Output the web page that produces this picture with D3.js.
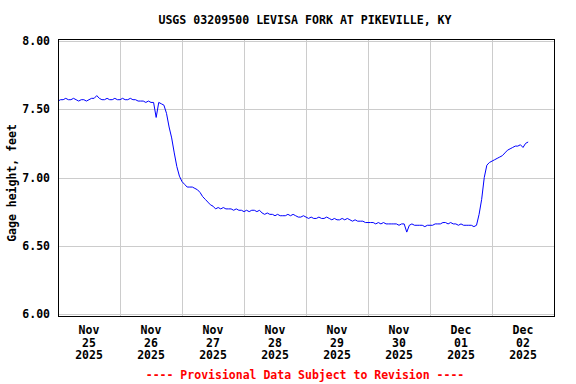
<!DOCTYPE html>
<html>
<head>
<meta charset="utf-8">
<script src="https://cdn.jsdelivr.net/npm/d3@7"></script>
<style>
  body { margin: 0; background: #fff; }
  svg text { font-family: "DejaVu Sans Mono", "Liberation Mono", monospace; font-weight: bold; }
</style>
</head>
<body>
<div id="chart"></div>
<script>
const WIDTH = 576
const HEIGHT = 384

const title = 'USGS 03209500 LEVISA FORK AT PIKEVILLE, KY'
const yLabel = 'Gage height, feet'
const footer = '---- Provisional Data Subject to Revision ----'

const yTicks = [6.0, 6.5, 7.0, 7.5, 8.0]
const dayLabels = [
    ['Nov', '25', '2025'], ['Nov', '26', '2025'], ['Nov', '27', '2025'], ['Nov', '28', '2025'],
    ['Nov', '29', '2025'], ['Nov', '30', '2025'], ['Dec', '01', '2025'], ['Dec', '02', '2025']
]

// hourly gage height readings starting Nov 25 2025 00:00
const startTime = Date.UTC(2025, 10, 25, 0, 0)
const gageHeight = [
    7.56, 7.57, 7.57, 7.58, 7.57, 7.57, 7.58, 7.57, 7.56, 7.57, 7.57, 7.56,
    7.57, 7.58, 7.58, 7.60, 7.58, 7.57, 7.57, 7.58, 7.57, 7.57, 7.58, 7.57,
    7.57, 7.58, 7.57, 7.57, 7.58, 7.57, 7.57, 7.56, 7.56, 7.56, 7.55, 7.56,
    7.55, 7.55, 7.44, 7.55, 7.54, 7.53, 7.47, 7.37, 7.29, 7.18, 7.08, 7.01,
    6.97, 6.95, 6.93, 6.93, 6.93, 6.92, 6.91, 6.89, 6.86, 6.84, 6.82, 6.80,
    6.79, 6.77, 6.78, 6.77, 6.78, 6.77, 6.77, 6.77, 6.76, 6.77, 6.76, 6.76,
    6.75, 6.76, 6.75, 6.76, 6.76, 6.75, 6.76, 6.74, 6.73, 6.74, 6.73, 6.73,
    6.72, 6.73, 6.72, 6.72, 6.72, 6.73, 6.72, 6.73, 6.72, 6.71, 6.71, 6.72,
    6.71, 6.70, 6.71, 6.70, 6.70, 6.71, 6.70, 6.70, 6.71, 6.70, 6.69, 6.70,
    6.69, 6.69, 6.70, 6.69, 6.70, 6.69, 6.68, 6.69, 6.68, 6.68, 6.68, 6.67,
    6.67, 6.67, 6.67, 6.66, 6.67, 6.66, 6.67, 6.66, 6.66, 6.66, 6.66, 6.66,
    6.65, 6.66, 6.66, 6.60, 6.65, 6.66, 6.65, 6.65, 6.65, 6.65, 6.64, 6.65,
    6.65, 6.65, 6.66, 6.66, 6.66, 6.67, 6.67, 6.66, 6.67, 6.66, 6.66, 6.65,
    6.66, 6.65, 6.65, 6.65, 6.65, 6.64, 6.65, 6.73, 6.84, 7.00, 7.09, 7.11,
    7.12, 7.13, 7.14, 7.15, 7.16, 7.18, 7.20, 7.21, 7.22, 7.23, 7.23, 7.24,
    7.22, 7.25, 7.26
]

const margin = { left: 58, top: 39, right: 554, bottom: 316 }

window.onload = function () {
    const svg = d3.select('#chart').append('svg').attr('width', WIDTH).attr('height', HEIGHT)

    const data = gageHeight.map((v, i) => ({ t: new Date(startTime + i * 3600000), v: v }))

    const x = d3.scaleUtc()
        .domain([new Date(Date.UTC(2025, 10, 25)), new Date(Date.UTC(2025, 11, 3))])
        .range([margin.left, margin.right])
    const y = d3.scaleLinear()
        .domain([6, 8])
        .range([314, 41])

    const days = d3.utcDay.range(new Date(Date.UTC(2025, 10, 25)), new Date(Date.UTC(2025, 11, 3)))

    // grid
    const grid = svg.append('g').attr('stroke', '#cccccc').attr('stroke-width', 1)
    grid.selectAll('line.h')
        .data(yTicks)
        .enter()
        .append('line')
        .attr('x1', margin.left).attr('x2', margin.right)
        .attr('y1', d => Math.round(y(d)) + 0.5).attr('y2', d => Math.round(y(d)) + 0.5)
    grid.selectAll('line.v')
        .data(days.slice(1))
        .enter()
        .append('line')
        .attr('x1', d => Math.round(x(d)) + 0.5).attr('x2', d => Math.round(x(d)) + 0.5)
        .attr('y1', margin.top).attr('y2', margin.bottom)

    // data line
    const line = d3.line()
        .x(d => x(d.t))
        .y(d => y(d.v))
    svg.append('path')
        .datum(data)
        .attr('d', line)
        .attr('fill', 'none')
        .attr('stroke', '#0000ff')
        .attr('stroke-width', 1)

    // frame
    svg.append('rect')
        .attr('x', margin.left + 0.5).attr('y', margin.top + 0.5)
        .attr('width', margin.right - margin.left).attr('height', margin.bottom - margin.top)
        .attr('fill', 'none')
        .attr('stroke', '#000')
        .attr('stroke-width', 1)

    // y tick labels
    svg.selectAll('text.ytick')
        .data(yTicks)
        .enter()
        .append('text')
        .attr('x', 50)
        .attr('y', d => y(d))
        .attr('dy', '0.35em')
        .attr('text-anchor', 'end')
        .attr('font-size', '11.5px')
        .text(d => d3.format('.2f')(d))

    // x day labels, centered at noon
    const lbl = svg.selectAll('g.xlab')
        .data(days)
        .enter()
        .append('g')
        .attr('transform', d => `translate(${x(d3.utcHour.offset(d, 12))},0)`)
    lbl.selectAll('text')
        .data((d, i) => dayLabels[i])
        .enter()
        .append('text')
        .attr('y', (d, i) => 334 + i * 12.7)
        .attr('text-anchor', 'middle')
        .attr('font-size', '11.5px')
        .text(d => d)

    // title
    svg.append('text')
        .attr('x', 305).attr('y', 24)
        .attr('text-anchor', 'middle')
        .attr('font-size', '11.6px')
        .text(title)

    // y axis title
    svg.append('text')
        .attr('transform', 'translate(16,183) rotate(-90)')
        .attr('text-anchor', 'middle')
        .attr('font-size', '11.5px')
        .text(yLabel)

    // footer
    svg.append('text')
        .attr('x', 305).attr('y', 379)
        .attr('text-anchor', 'middle')
        .attr('font-size', '11.5px')
        .attr('fill', '#ff0000')
        .text(footer)
}
</script>
</body>
</html>
